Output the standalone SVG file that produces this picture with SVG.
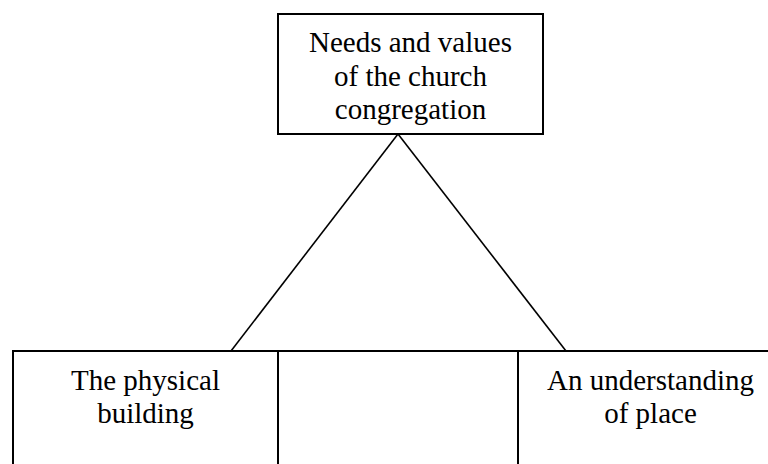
<svg xmlns="http://www.w3.org/2000/svg" width="768" height="464" viewBox="0 0 768 464">
  <style>
    .box { fill: #ffffff; stroke: #000000; stroke-width: 2; }
    .link { fill: none; stroke: #000000; stroke-width: 1.6; }
    .label { font-family: "Liberation Serif", "Times New Roman", serif; font-size: 29px; fill: #000000; text-anchor: middle; }
  </style>
  <rect width="768" height="464" fill="#ffffff"/>

  <!-- triangle linking the top box to the base row -->
  <g id="connectors">
    <line class="link" x1="398" y1="134" x2="231" y2="351"/>
    <line class="link" x1="398" y1="134" x2="566" y2="351"/>
  </g>

  <g id="node-needs">
    <rect class="box" x="278" y="14" width="265" height="120"/>
    <text class="label" x="410.5" y="52">Needs and values</text>
    <text class="label" x="410.5" y="86">of the church</text>
    <text class="label" x="410.5" y="119">congregation</text>
  </g>

  <g id="node-building">
    <rect class="box" x="13" y="351" width="265" height="130"/>
    <text class="label" x="145.5" y="390">The physical</text>
    <text class="label" x="145.5" y="423">building</text>
  </g>

  <g id="node-middle">
    <rect class="box" x="278" y="351" width="240" height="130"/>
  </g>

  <g id="node-place">
    <rect class="box" x="518" y="351" width="265" height="130"/>
    <text class="label" x="650.5" y="390">An understanding</text>
    <text class="label" x="650.5" y="423">of place</text>
  </g>
</svg>
